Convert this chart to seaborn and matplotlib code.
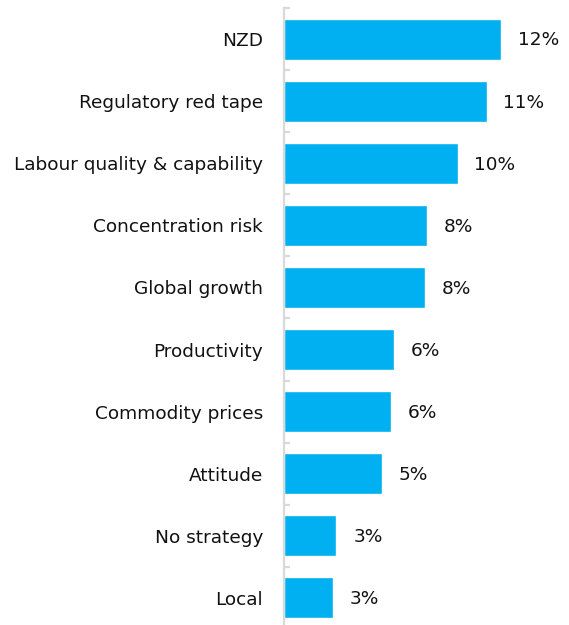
import matplotlib
matplotlib.use("Agg")
import matplotlib.pyplot as plt
import seaborn as sns
import pandas as pd
import numpy as np

categories = [
    "NZD",
    "Regulatory red tape",
    "Labour quality & capability",
    "Concentration risk",
    "Global growth",
    "Productivity",
    "Commodity prices",
    "Attitude",
    "No strategy",
    "Local",
]
shares = [12.0, 11.2, 9.6, 7.9, 7.8, 6.1, 5.9, 5.4, 2.9, 2.7]

df = pd.DataFrame({"category": categories, "share": shares})

sns.set_style("white")
plt.rcParams["font.family"] = ["DejaVu Sans"]

fig = plt.figure(figsize=(5.69, 6.25), dpi=100)
ax = fig.add_axes([284 / 569, -4 / 625, 1 - 284 / 569, 621 / 625])

sns.barplot(data=df, x="share", y="category", color="#00B0F0",
            saturation=1, width=0.66, ax=ax, orient="h")

ax.set_xlim(0, 285 / 18.1)
ax.set_ylim(len(categories) - 0.5, -0.5)
ax.set_xlabel("")
ax.set_ylabel("")
ax.set_xticks([])

for side in ("top", "right", "bottom"):
    ax.spines[side].set_visible(False)
ax.spines["left"].set_color("#d9d9d9")
ax.spines["left"].set_linewidth(1.6)

ax.tick_params(axis="y", which="major", left=False, length=0, pad=15,
               labelsize=13.3, labelcolor="#111111")
ax.set_yticks(np.arange(-0.5, len(categories), 1.0), minor=True)
ax.tick_params(axis="y", which="minor", left=True, direction="in",
               length=4.5, width=1.6, color="#d9d9d9")

for i, v in enumerate(shares):
    ax.annotate(f"{v:.0f}%", xy=(v, i), xytext=(12, -1),
                textcoords="offset points", va="center", ha="left",
                fontsize=13.3, color="#111111")

fig.savefig("out.png", dpi=100)
